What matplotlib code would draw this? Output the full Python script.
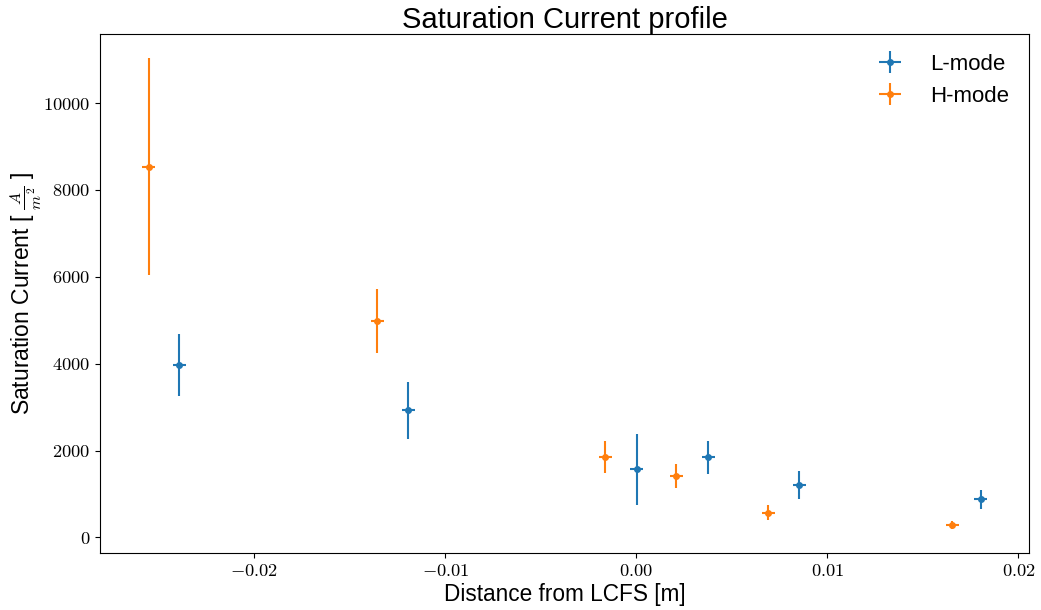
import matplotlib
matplotlib.use('Agg')
import matplotlib.pyplot as plt
from matplotlib.ticker import FuncFormatter
import numpy as np

# L-mode Messpunkte
l_x = [-0.02393, -0.01195, 0.00002, 0.00376, 0.00852, 0.01802]
l_y = [3970, 2926, 1567, 1843, 1205, 875]
l_yerr = [715, 655, 818, 373, 320, 220]

# H-mode Messpunkte
h_x = [-0.02552, -0.01357, -0.00162, 0.00209, 0.00690, 0.01654]
h_y = [8539, 4984, 1850, 1419, 567, 283]
h_yerr = [2508, 740, 365, 275, 170, 100]

x_err = 0.00034

plt.rcParams['font.family'] = ['Liberation Sans', 'DejaVu Sans']
plt.rcParams['mathtext.fontset'] = 'cm'

fig = plt.figure(figsize=(10.41, 6.10), dpi=100)
ax = fig.add_axes([0.0963, 0.0934, 0.8925, 0.8509])

ax.errorbar(l_x, l_y, xerr=x_err, yerr=l_yerr, fmt='o', ms=4, label='L-mode')
ax.errorbar(h_x, h_y, xerr=x_err, yerr=h_yerr, fmt='o', ms=4, label='H-mode')

# Tick-Labels im LaTeX-Stil
ax.xaxis.set_major_formatter(FuncFormatter(lambda v, p: r'$%.2f$' % v))
ax.yaxis.set_major_formatter(FuncFormatter(lambda v, p: r'$%d$' % round(v)))

ax.set_title('Saturation Current profile', fontsize=21, pad=4)
ax.set_xlabel('Distance from LCFS [m]', fontsize=16.3, labelpad=2)
ax.set_ylabel(r'Saturation Current [ $\frac{A}{m^2}$ ]', fontsize=16.5, labelpad=-1)
ax.tick_params(axis='both', labelsize=13.3)
ax.legend(loc='upper right', fontsize=16, frameon=False)

fig.savefig('out.png', dpi=100)
